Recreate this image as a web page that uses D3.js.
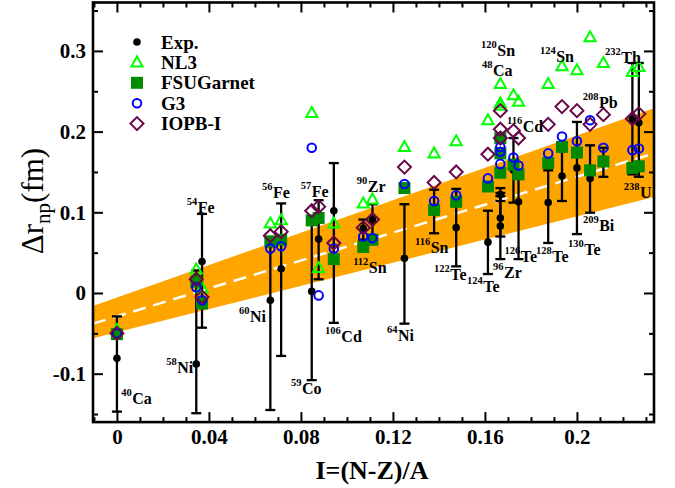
<!DOCTYPE html>
<html>
<head>
<meta charset="utf-8">
<script src="https://cdn.jsdelivr.net/npm/d3@7"></script>
<style>
  body { margin: 0; background: #fff; }
  svg { display: block; font-family: "Liberation Serif", "Times New Roman", serif; }
</style>
</head>
<body>
<svg id="chart"></svg>
<script>
const width = 675;
const height = 488;

// nuclei, isospin asymmetry I=(N-Z)/A
const nuclei = ["40Ca", "58Ni", "54Fe", "60Ni", "56Fe", "59Co", "57Fe", "106Cd", "112Sn", "90Zr",
    "64Ni", "116Sn", "122Te", "124Te", "48Ca", "120Sn", "96Zr", "116Cd", "126Te", "128Te",
    "124Sn", "130Te", "209Bi", "208Pb", "232Th", "238U"];
const isospin = [0, 0.0345, 0.0370, 0.0667, 0.0714, 0.0847, 0.0877, 0.0943, 0.1071, 0.1111,
    0.125, 0.1379, 0.1475, 0.1613, 0.1667, 0.1667, 0.1667, 0.1724, 0.1746, 0.1875,
    0.1935, 0.2, 0.2057, 0.2115, 0.2241, 0.2269];

// experiment, with lower / upper ends of the error bars
const expValue = [-0.081, -0.088, 0.039, -0.009, 0.030, 0.002, 0.067, 0.102, 0.080, 0.091,
    0.043, 0.101, 0.081, 0.063, 0.122, 0.093, 0.083, 0.152, 0.113, 0.112,
    0.145, 0.155, 0.142, 0.162, 0.216, 0.211];
const expLow = [-0.147, -0.149, -0.043, -0.145, -0.078, -0.108, 0.017, -0.037, 0.066, 0.070,
    -0.038, 0.074, 0.033, 0.0235, 0.114, 0.070, 0.042, 0.112, 0.042, 0.062,
    0.114, 0.073, 0.0995, 0.144, 0.147, 0.144];
const expHigh = [-0.029, 0.028, 0.098, 0.058, 0.111, 0.085, 0.115, 0.161, 0.091, 0.110,
    0.110, 0.128, 0.129, 0.102, 0.130, 0.120, 0.124, 0.192, 0.150, 0.152,
    0.176, 0.212, 0.183, 0.180, 0.285, 0.285];

// model values
const nl3 = [-0.046, 0.029, 0.006, 0.086, 0.090, 0.223, 0.031, 0.086, 0.111, 0.116,
    0.181, 0.173, 0.188, 0.214, 0.259, 0.235, 0.232, 0.245, 0.237, 0.259,
    0.281, 0.276, 0.317, 0.285, 0.274, 0.280];
const fsuGarnet = [-0.051, 0.014, -0.013, 0.064, 0.066, 0.090, 0.093, 0.042, 0.057, 0.066,
    0.130, 0.103, 0.113, 0.132, 0.192, 0.173, 0.149, 0.159, 0.147, 0.161,
    0.181, 0.174, 0.152, 0.163, 0.155, 0.157];
const g3 = [-0.050, 0.007, -0.009, 0.055, 0.058, 0.180, -0.003, 0.055, 0.070, 0.068,
    0.135, 0.114, 0.121, 0.142, 0.181, 0.175, 0.160, 0.168, 0.158, 0.173,
    0.194, 0.188, 0.214, 0.180, 0.177, 0.179];
const iopb = [-0.050, 0.017, -0.005, 0.071, 0.076, 0.102, 0.107, 0.062, 0.081, 0.091,
    0.156, 0.137, 0.150, 0.172, 0.226, 0.203, 0.192, 0.201, 0.192, 0.209,
    0.231, 0.226, 0.209, 0.221, 0.216, 0.222];

// systematics band and its central line (ends of the plotted range)
const bandI = [-0.0104, 0.2335];
const bandLow = [-0.056, 0.119];
const bandHigh = [-0.016, 0.229];
const bandMid = [-0.038, 0.173];

// nucleus labels: mass number, element, anchor in data units
const labelMass = ["40", "58", "54", "60", "56", "57", "59", "106", "90", "112", "64", "116", "122",
    "124", "96", "126", "128", "130", "209", "238", "232", "208", "124", "120", "48", "116"];
const labelElem = ["Ca", "Ni", "Fe", "Ni", "Fe", "Fe", "Co", "Cd", "Zr", "Sn", "Ni", "Sn", "Te",
    "Te", "Zr", "Te", "Te", "Te", "Bi", "U", "Th", "Pb", "Sn", "Sn", "Ca", "Cd"];
const labelI = [0.0019, 0.0214, 0.0304, 0.0531, 0.0631, 0.0799, 0.0757, 0.0905, 0.1043, 0.1027,
    0.1174, 0.1296, 0.1379, 0.1522, 0.1635, 0.1685, 0.1822, 0.1961, 0.2026, 0.2204,
    0.2122, 0.2025, 0.1839, 0.1583, 0.1587, 0.1696];
const labelV = [-0.1375, -0.099, 0.0995, -0.036, 0.1177, 0.1193, -0.1252, -0.0613, 0.1255, 0.0248,
    -0.0591, 0.0496, 0.0155, 0.0012, 0.0182, 0.0378, 0.038, 0.0471, 0.0772, 0.1173,
    0.2846, 0.2289, 0.2866, 0.294, 0.2689, 0.1991];

const xTicks = [0, 0.04, 0.08, 0.12, 0.16, 0.2];
const yTicks = [-0.1, 0, 0.1, 0.2, 0.3];
const legendNames = ["Exp.", "NL3", "FSUGarnet", "G3", "IOPB-I"];

const colors = {nl3: "#00ff00", fsu: "#008b00", g3: "#0000ff", iopb: "#670748", band: "#ffa500"};

const svg = d3.select("#chart")
    .attr("width", width)
    .attr("height", height);

const x = d3.scaleLinear().domain([-0.0104, 0.2335]).range([93, 654]);
const y = d3.scaleLinear().domain([-0.16, 0.36]).range([422.1, 2.5]);

const fmt = d => d === 0 ? "0" : String(+d.toFixed(2));

// band
const band = bandI.map((v, i) => ({I: v, lo: bandLow[i], hi: bandHigh[i], mid: bandMid[i]}));
svg.append("path")
    .datum(band)
    .attr("fill", colors.band)
    .attr("d", d3.area().x(d => x(d.I)).y0(d => y(d.lo)).y1(d => y(d.hi)));
svg.append("path")
    .datum(band)
    .attr("fill", "none")
    .attr("stroke", "#fff")
    .attr("stroke-width", 2.5)
    .attr("stroke-dasharray", "13,8")
    .attr("d", d3.line().x(d => x(d.I)).y(d => y(d.mid)));

// experimental points
const rows = nuclei.map((n, i) => ({
    name: n, I: isospin[i], exp: expValue[i], lo: expLow[i], hi: expHigh[i],
    nl3: nl3[i], fsu: fsuGarnet[i], g3: g3[i], iopb: iopb[i]
}));

const expG = svg.append("g").attr("stroke", "#000").attr("stroke-width", 2.3);
rows.forEach(d => {
    const cx = x(d.I);
    expG.append("line").attr("x1", cx).attr("x2", cx).attr("y1", y(d.lo)).attr("y2", y(d.hi));
    expG.append("line").attr("x1", cx - 5).attr("x2", cx + 5).attr("y1", y(d.lo)).attr("y2", y(d.lo));
    expG.append("line").attr("x1", cx - 5).attr("x2", cx + 5).attr("y1", y(d.hi)).attr("y2", y(d.hi));
});
svg.append("g").selectAll("circle")
    .data(rows)
    .enter().append("circle")
    .attr("cx", d => x(d.I))
    .attr("cy", d => y(d.exp))
    .attr("r", 3.8)
    .attr("fill", "#000");

const triangle = "M0,-6L5.6,4L-5.6,4Z";
const diamond = "M0,-6.5L6.5,0L0,6.5L-6.5,0Z";

svg.append("g").selectAll("path")
    .data(rows)
    .enter().append("path")
    .attr("d", triangle)
    .attr("transform", d => `translate(${x(d.I)},${y(d.nl3)})`)
    .attr("fill", "none")
    .attr("stroke", colors.nl3)
    .attr("stroke-width", 2);

svg.append("g").selectAll("rect")
    .data(rows)
    .enter().append("rect")
    .attr("x", d => x(d.I) - 6)
    .attr("y", d => y(d.fsu) - 6)
    .attr("width", 12)
    .attr("height", 12)
    .attr("fill", colors.fsu);

svg.append("g").selectAll("circle")
    .data(rows)
    .enter().append("circle")
    .attr("cx", d => x(d.I))
    .attr("cy", d => y(d.g3))
    .attr("r", 4.3)
    .attr("fill", "none")
    .attr("stroke", colors.g3)
    .attr("stroke-width", 2);

svg.append("g").selectAll("path")
    .data(rows)
    .enter().append("path")
    .attr("d", diamond)
    .attr("transform", d => `translate(${x(d.I)},${y(d.iopb)})`)
    .attr("fill", "none")
    .attr("stroke", colors.iopb)
    .attr("stroke-width", 2);

// nucleus labels
labelMass.forEach((m, i) => {
    const t = svg.append("text")
        .attr("x", x(labelI[i]))
        .attr("y", y(labelV[i]))
        .attr("font-weight", "bold")
        .attr("fill", "#000");
    t.append("tspan").attr("font-size", 10.5).attr("dy", -8).text(m);
    t.append("tspan").attr("font-size", 16).attr("dy", 8).attr("dx", 0.5).text(labelElem[i]);
});

// axes: major and minor ticks on all four sides, pointing inward
const xMinor = d3.range(-10, 234, 10).map(v => v / 1000).filter(v => !xTicks.some(t => Math.abs(t - v) < 1e-6));
const yMinor = [-0.15, -0.05, 0.05, 0.15, 0.25, 0.35];

function tickAxis(axisFn, scale, pos, ticks, len, labels) {
    const ax = axisFn(scale).tickValues(ticks).tickSizeInner(-len).tickSizeOuter(0)
        .tickPadding(labels ? 7 : 0)
        .tickFormat(labels ? fmt : "");
    const g = svg.append("g").attr("transform", pos).call(ax);
    g.select(".domain").remove();
    g.selectAll("line").attr("stroke", "#000").attr("stroke-width", 2);
    g.selectAll("text")
        .attr("font-family", "Liberation Serif, Times New Roman, serif")
        .attr("font-size", 21)
        .attr("font-weight", "bold")
        .attr("fill", "#000");
    return g;
}
tickAxis(d3.axisBottom, x, "translate(0,422.1)", xTicks, 10, true);
tickAxis(d3.axisBottom, x, "translate(0,422.1)", xMinor, 5, false);
tickAxis(d3.axisTop, x, "translate(0,2.5)", xTicks, 10, false);
tickAxis(d3.axisTop, x, "translate(0,2.5)", xMinor, 5, false);
const yl = tickAxis(d3.axisLeft, y, "translate(93,0)", yTicks, 10, true);
yl.selectAll("text").attr("dx", 0);
tickAxis(d3.axisLeft, y, "translate(93,0)", yMinor, 5, false);
tickAxis(d3.axisRight, y, "translate(654,0)", yTicks, 10, false);
tickAxis(d3.axisRight, y, "translate(654,0)", yMinor, 5, false);

svg.append("rect")
    .attr("x", 93).attr("y", 2.5)
    .attr("width", 654 - 93).attr("height", 422.1 - 2.5)
    .attr("fill", "none")
    .attr("stroke", "#000")
    .attr("stroke-width", 2.6);

// legend
const legend = svg.append("g").attr("transform", "translate(137,42)");
legendNames.forEach((name, i) => {
    const g = legend.append("g").attr("transform", `translate(0,${i * 20.4})`);
    if (i === 0) g.append("circle").attr("r", 3.8).attr("fill", "#000");
    if (i === 1) g.append("path").attr("d", triangle).attr("fill", "none").attr("stroke", colors.nl3).attr("stroke-width", 2);
    if (i === 2) g.append("rect").attr("x", -6).attr("y", -6).attr("width", 12).attr("height", 12).attr("fill", colors.fsu);
    if (i === 3) g.append("circle").attr("r", 4.3).attr("fill", "none").attr("stroke", colors.g3).attr("stroke-width", 2);
    if (i === 4) g.append("path").attr("d", diamond).attr("fill", "none").attr("stroke", colors.iopb).attr("stroke-width", 2);
    g.append("text")
        .attr("x", 24)
        .attr("y", 6.5)
        .attr("font-size", 19)
        .attr("font-weight", "bold")
        .text(name);
});

// axis titles
svg.append("text")
    .attr("x", 372)
    .attr("y", 479)
    .attr("text-anchor", "middle")
    .attr("font-size", 26)
    .attr("font-weight", "bold")
    .text("I=(N-Z)/A");

const yt = svg.append("text")
    .attr("transform", "translate(43,201) rotate(-90)")
    .attr("text-anchor", "middle")
    .attr("font-size", 31);
yt.append("tspan").text("\u0394r");
yt.append("tspan").attr("font-size", 21).attr("dy", 7).text("np");
yt.append("tspan").attr("dy", -7).text("(fm)");
</script>
</body>
</html>
